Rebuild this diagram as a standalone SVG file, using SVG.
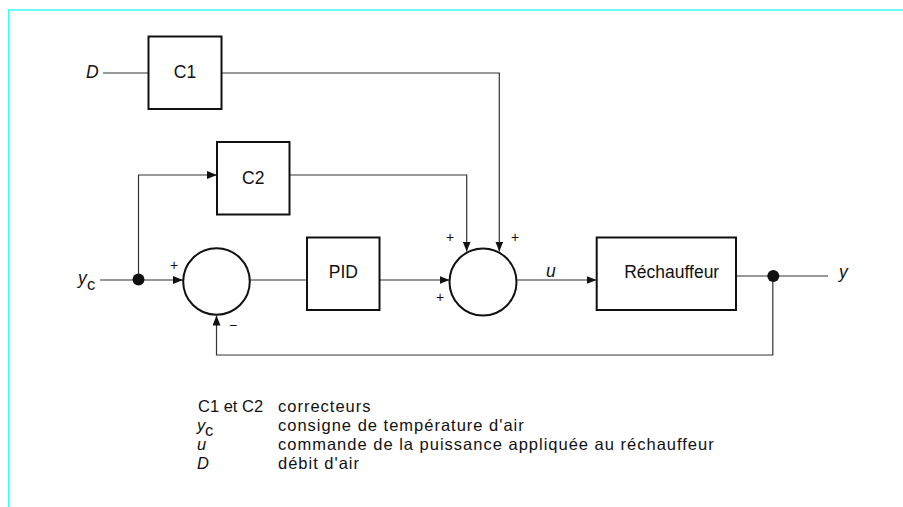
<svg xmlns="http://www.w3.org/2000/svg" width="903" height="507" viewBox="0 0 903 507">
<style>
.frame{stroke:#33ffff;stroke-width:1.5;fill:none}
.box{fill:#fff;stroke:#111;stroke-width:2}
.sum{fill:#fff;stroke:#111;stroke-width:2}
.ln{fill:none;stroke:#333;stroke-width:1.2}
text{font-family:"Liberation Sans",Arial,sans-serif;font-size:16.5px;fill:#111}
.lbl{font-size:17.5px}
.it{font-style:italic}
.sg{font-size:14px}
.desc{letter-spacing:1px}
</style>
<defs>
<marker id="ar" viewBox="0 0 10 8" refX="10" refY="4" markerWidth="10" markerHeight="8" markerUnits="userSpaceOnUse" orient="auto">
<path d="M0,0 L10,4 L0,8 Z" fill="#111"/>
</marker>
</defs>
<rect width="903" height="507" fill="#fff"/>
<path class="frame" d="M903,10 H8.8 V507"/>
<g id="connectors">
<path class="ln" d="M103,73 H148.5"/>
<path class="ln" d="M221.5,73 H499.3 V251.5" marker-end="url(#ar)"/>
<path class="ln" d="M289.5,175 H466.7 V251.5" marker-end="url(#ar)"/>
<path class="ln" d="M138.5,279.5 V175 H217" marker-end="url(#ar)"/>
<path class="ln" d="M100,280 H183" marker-end="url(#ar)"/>
<path class="ln" d="M250,280 H307"/>
<path class="ln" d="M379.5,280 H449.5" marker-end="url(#ar)"/>
<path class="ln" d="M516.5,280 H596.5" marker-end="url(#ar)"/>
<path class="ln" d="M736,276 H828"/>
<path class="ln" d="M772.8,276 V355 H216.5 V315.5" marker-end="url(#ar)"/>
<circle cx="138.5" cy="279.5" r="6" fill="#111"/>
<circle cx="773.3" cy="276" r="6" fill="#111"/>
</g>
<g id="C1">
<rect class="box" x="148.5" y="36.5" width="73" height="72.5"/>
<text class="lbl" x="185" y="78" text-anchor="middle">C1</text>
</g>
<g id="C2">
<rect class="box" x="217" y="142" width="72.5" height="72.5"/>
<text class="lbl" x="253.3" y="184" text-anchor="middle">C2</text>
</g>
<g id="sum1">
<circle class="sum" cx="216.5" cy="281.5" r="33.3"/>
</g>
<g id="PID">
<rect class="box" x="307" y="237.5" width="72.5" height="72.5"/>
<text class="lbl" x="343.3" y="278.3" text-anchor="middle">PID</text>
</g>
<g id="sum2">
<circle class="sum" cx="483" cy="282" r="33.5"/>
</g>
<g id="Rechauffeur">
<rect class="box" x="596.7" y="237.5" width="139.3" height="72.5"/>
<text class="lbl" x="671.7" y="278.3" text-anchor="middle">Réchauffeur</text>
</g>
<g id="labels">
<text class="lbl it" x="86" y="77.5">D</text>
<text class="lbl it" x="78" y="284">y</text><text x="87" y="290" font-size="15">c</text>
<text class="lbl it" x="546" y="277">u</text>
<text class="lbl it" x="839" y="278">y</text>
<text class="sg" x="170" y="270">+</text>
<text class="sg" x="229" y="330">−</text>
<text class="sg" x="436" y="302">+</text>
<text class="sg" x="446" y="242">+</text>
<text class="sg" x="511" y="242">+</text>
</g>
<g id="legend">
<text x="198" y="412">C1 et C2</text><text class="desc" x="278" y="412">correcteurs</text>
<text class="it" x="197" y="431">y</text><text x="205" y="436" font-size="14">c</text><text class="desc" x="278" y="431">consigne de température d'air</text>
<text class="it" x="197" y="450">u</text><text class="desc" x="278" y="450">commande de la puissance appliquée au réchauffeur</text>
<text class="it" x="197" y="469">D</text><text class="desc" x="278" y="469">débit d'air</text>
</g>
</svg>
